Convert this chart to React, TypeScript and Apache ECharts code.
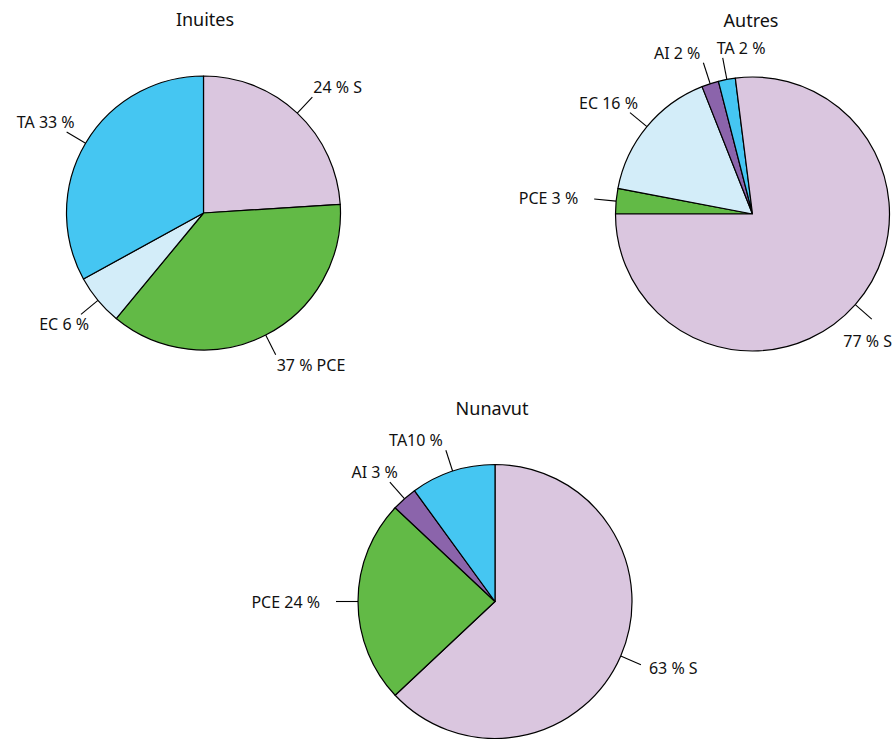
import React, { useEffect, useRef } from "react";
import * as echarts from "echarts";

// Colours per category
const categoryColors: Record<string, string> = {
  S: "#dac6df",
  PCE: "#62ba46",
  EC: "#d3edf9",
  AI: "#8b64ab",
  TA: "#45c6f2",
};

// Inuites
const inuitesNames = ["S", "PCE", "EC", "TA"];
const inuitesValues = [24, 37, 6, 33];
const inuitesLabels = ["24 % S", "37 % PCE", "EC 6 %", "TA 33 %"];

// Autres
const autresNames = ["PCE", "EC", "AI", "TA", "S"];
const autresValues = [3, 16, 2, 2, 77];
const autresLabels = ["PCE 3 %", "EC 16 %", "AI 2 %", "TA 2 %", "77 % S"];

// Nunavut
const nunavutNames = ["S", "PCE", "AI", "TA"];
const nunavutValues = [63, 24, 3, 10];
const nunavutLabels = ["63 % S", "PCE 24 %", "AI 3 %", "TA10 %"];

const titles = ["Inuites", "Autres", "Nunavut"];

const FONT = "'Noto Sans', 'Open Sans', sans-serif";
const WIDTH = 894;
const HEIGHT = 739;

function buildData(names: string[], values: number[], labels: string[]) {
  return names.map((n, i) => ({
    name: n,
    value: values[i],
    labelText: labels[i],
    itemStyle: { color: categoryColors[n] },
  }));
}

function layoutLabel(p: any) {
  const pts = p.labelLinePoints;
  if (!pts || pts.length < 2) return {};
  const [sx, sy] = pts[0];
  const [ex, ey] = pts[1];
  const dx = ex - sx;
  const dy = ey - sy;
  const len = Math.hypot(dx, dy) || 1;
  const ux = dx / len;
  const uy = dy / len;
  const w = p.labelRect.width;
  const h = p.labelRect.height;
  let align = "left";
  let x = ex;
  let y = ey;
  if (uy < 0 && Math.abs(ux) < 0.2) {
    // near-vertical, upward
    align = "left";
    x = ex - 6;
    y = ey - (h / 2 + 2);
  } else if (uy < 0 && Math.abs(ux) < 0.35) {
    align = "right";
    x = ex - 3;
    y = ey - (h / 2 + 2);
  } else if (Math.abs(uy) < 0.45) {
    // near-horizontal
    if (ux >= 0) {
      align = "left";
      x = ex + 8;
    } else {
      align = "right";
      x = ex - 16;
    }
    y = ey + uy * (h / 2);
  } else {
    if (ux >= 0) {
      align = "left";
      x = ex + 1;
    } else {
      align = "right";
      x = ex + 8;
    }
    y = ey + Math.sign(uy) * (h / 2 + 2);
  }
  // keep labels inside the canvas
  if (align === "left" && x + w > WIDTH - 2) {
    x = WIDTH - 2 - w;
    y = ey + Math.sign(uy || 1) * (h + 6);
  }
  if (align === "right" && x - w < 2) {
    x = 2 + w;
  }
  return {
    x,
    y,
    align,
    verticalAlign: "middle",
    labelLinePoints: pts.map((q: number[]) => [q[0], q[1]]),
  };
}

function makePie(data: any[], center: [number, number], startAngle: number): any {
  return {
    type: "pie",
    center,
    radius: 137,
    startAngle,
    clockwise: true,
    avoidLabelOverlap: false,
    data,
    itemStyle: { borderColor: "#000", borderWidth: 1.2 },
    emphasis: { disabled: true },
    label: {
      show: true,
      position: "outside",
      color: "#111",
      fontFamily: FONT,
      fontSize: 16,
      formatter: (p: any) => p.data.labelText,
    },
    labelLine: {
      show: true,
      length: 22,
      length2: 0,
      smooth: false,
      lineStyle: { color: "#000", width: 1.1 },
    },
    labelLayout: layoutLabel,
  };
}

export default function App() {
  const ref = useRef<HTMLDivElement>(null);
  useEffect(() => {
    if (!ref.current) return;
    const chart = echarts.init(ref.current, undefined, { renderer: "svg" });
    const titleStyle = {
      fontFamily: FONT,
      fontSize: 18,
      fill: "#111",
      textAlign: "center",
      textVerticalAlign: "middle",
    };
    chart.setOption({
      animation: false,
      backgroundColor: "#fff",
      graphic: [
        { type: "text", x: 205, y: 19, style: { ...titleStyle, text: titles[0] } },
        { type: "text", x: 751, y: 20, style: { ...titleStyle, text: titles[1] } },
        { type: "text", x: 492, y: 408, style: { ...titleStyle, text: titles[2] } },
      ],
      series: [
        makePie(buildData(inuitesNames, inuitesValues, inuitesLabels), [203.5, 213], 90),
        makePie(buildData(autresNames, autresValues, autresLabels), [752.5, 214], 180),
        makePie(buildData(nunavutNames, nunavutValues, nunavutLabels), [495, 601.5], 90),
      ],
    });
    return () => chart.dispose();
  }, []);
  return (
    <div
      ref={ref}
      style={{ position: "absolute", left: 0, top: 0, width: WIDTH, height: HEIGHT }}
    />
  );
}
